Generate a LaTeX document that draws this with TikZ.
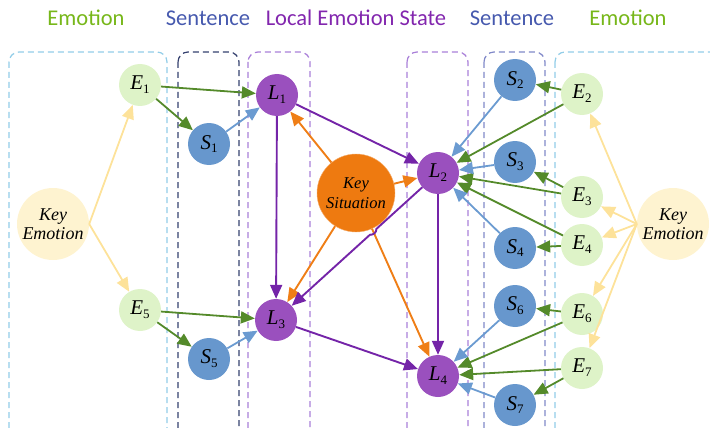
\documentclass[tikz,border=0pt]{standalone}
\usepackage{fontspec}
\setmainfont{Liberation Serif}
\newfontfamily\hdfont{Carlito}
\usetikzlibrary{arrows.meta,calc}

\definecolor{emofill}{HTML}{DEF3C8}
\definecolor{senfill}{HTML}{6797CD}
\definecolor{locfill}{HTML}{9A50BE}
\definecolor{keyfill}{HTML}{FEF3D0}
\definecolor{sitfill}{HTML}{EE7A10}
\definecolor{gcol}{HTML}{548A2A}
\definecolor{ycol}{HTML}{FDE29A}
\definecolor{bcol}{HTML}{6B9BD1}
\definecolor{pcol}{HTML}{7424A8}
\definecolor{ocol}{HTML}{EF7E16}
\definecolor{emobox}{HTML}{92CDE8}
\definecolor{senboxl}{HTML}{34406E}
\definecolor{senboxr}{HTML}{8088C8}
\definecolor{locbox}{HTML}{A97FD8}
\definecolor{hgreen}{HTML}{77B71A}
\definecolor{hblue}{HTML}{4659AE}
\definecolor{hpurple}{HTML}{8226AE}

\newcommand{\nlab}[2]{\textit{#1}\raisebox{-0.4ex}{\fontsize{13}{13}\selectfont #2}}

\tikzset{
  emo/.style={shape=circle,fill=emofill,minimum size=42pt,inner sep=0pt,font=\fontsize{21}{21}\selectfont},
  sen/.style={shape=circle,fill=senfill,minimum size=42pt,inner sep=0pt,font=\fontsize{21}{21}\selectfont},
  loc/.style={shape=circle,fill=locfill,minimum size=42pt,inner sep=0pt,font=\fontsize{21}{21}\selectfont},
  keyemo/.style={shape=circle,fill=keyfill,minimum size=72pt,inner sep=0pt,align=center,font=\fontsize{18}{19}\selectfont\itshape},
  keysit/.style={shape=circle,fill=sitfill,draw=sitfill!60!white,minimum size=78pt,inner sep=0pt,align=center,font=\fontsize{16.5}{20}\selectfont\itshape},
  head/.style={anchor=base,font=\hdfont\fontsize{22.5}{22.5}\selectfont},
  tip/.style={-{Triangle[length=14pt,width=12pt]}},
  garrow/.style={tip,color=gcol,line width=1.8pt},
  yarrow/.style={tip,color=ycol,line width=1.8pt},
  barrow/.style={tip,color=bcol,line width=1.8pt},
  parrow/.style={tip,color=pcol,line width=1.9pt},
  oarrow/.style={tip,color=ocol,line width=1.9pt},
  grp/.style={rounded corners=10pt,line width=1.2pt,dash pattern=on 6pt off 4pt}
}

\begin{document}
\begin{tikzpicture}[x=1pt,y=-1pt]
  \useasboundingbox (0,0) rectangle (710,428);

  % column titles
  \node[head,text=hgreen] (tEmoL) at (86,26) {Emotion};
  \node[head,text=hblue] (tSenL) at (208,26) {Sentence};
  \node[head,text=hpurple] (tLoc) at (356,26) {Local Emotion State};
  \node[head,text=hblue] (tSenR) at (512,26) {Sentence};
  \node[head,text=hgreen] (tEmoR) at (628,26) {Emotion};

  % groups
  \draw[grp,emobox] (9,52) rectangle (167,438);
  \draw[grp,senboxl] (178,52) rectangle (239,438);
  \draw[grp,locbox] (248,52) rectangle (310,438);
  \draw[grp,locbox] (407,52) rectangle (468,438);
  \draw[grp,senboxr] (484,52) rectangle (545,438);
  \draw[grp,emobox] (555,52) rectangle (725,438);

  % vertices
  \node[keyemo] (keyL) at (53,224) {Key\\Emotion};
  \node[keyemo] (keyR) at (673,224) {Key\\Emotion};
  \node[keysit] (sit) at (356,193) {Key\\Situation};

  \node[emo] (E1) at (140,85) {\nlab{E}{1}};
  \node[emo] (E5) at (140,310) {\nlab{E}{5}};
  \node[emo] (E2) at (582,94) {\nlab{E}{2}};
  \node[emo] (E3) at (582,197) {\nlab{E}{3}};
  \node[emo] (E4) at (582,245) {\nlab{E}{4}};
  \node[emo] (E6) at (582,314) {\nlab{E}{6}};
  \node[emo] (E7) at (582,368) {\nlab{E}{7}};

  \node[sen] (S1) at (209,144) {\nlab{S}{1}};
  \node[sen] (S5) at (209,359) {\nlab{S}{5}};
  \node[sen] (S2) at (515,80) {\nlab{S}{2}};
  \node[sen] (S3) at (515,162) {\nlab{S}{3}};
  \node[sen] (S4) at (515,248) {\nlab{S}{4}};
  \node[sen] (S6) at (515,306) {\nlab{S}{6}};
  \node[sen] (S7) at (515,405) {\nlab{S}{7}};

  \node[loc] (L1) at (277,95) {\nlab{L}{1}};
  \node[loc] (L2) at (438,173) {\nlab{L}{2}};
  \node[loc] (L3) at (276,320) {\nlab{L}{3}};
  \node[loc] (L4) at (438,376) {\nlab{L}{4}};

  % edges
  \path[yarrow] (keyL.east) edge (E1);
  \path[yarrow] (keyL.east) edge (E5);
  \path[yarrow] (keyR.west) edge (E2);
  \path[yarrow] (keyR.west) edge (E3);
  \path[yarrow] (keyR.west) edge (E4);
  \path[yarrow] (keyR.west) edge (E6);
  \path[yarrow] (keyR.west) edge (E7);

  \path[garrow] (E1) edge (S1);
  \path[garrow] (E1) edge (L1);
  \path[garrow] (E5) edge (S5);
  \path[garrow] (E5) edge (L3);
  \path[garrow] (E2) edge (S2);
  \path[garrow] (E2) edge (L2);
  \path[garrow] (E3) edge (S3);
  \path[garrow] (E3) edge (L2);
  \path[garrow] (E4) edge (S4);
  \path[garrow] (E4) edge (L2);
  \path[garrow] (E6) edge (S6);
  \path[garrow] (E6) edge (L4);
  \path[garrow] (E7) edge (L4);
  \path[garrow] (E7) edge (S7);

  \path[barrow] (S1) edge (L1);
  \path[barrow] (S5) edge (L3);
  \path[barrow] (S2) edge (L2);
  \path[barrow] (S3) edge (L2);
  \path[barrow] (S4) edge (L2);
  \path[barrow] (S6) edge (L4);
  \path[barrow] (S7) edge (L4);

  \path[oarrow] (sit) edge (L1);
  \path[oarrow] (sit) edge (L2);
  \path[oarrow] (sit) edge (L3);
  \path[oarrow] (sit) edge (L4);

  \path[parrow] (L1) edge (L2);
  \path[parrow] (L1) edge (L3);
  \path[parrow] (L2) edge (L4);
  \path[parrow] (L3) edge (L4);
  % L2 -> L3 hops over the orange line
  \draw[parrow] (L2) -- ($(L2)!0.38!(L3)$) to[bend left=50] ($(L2)!0.42!(L3)$) -- (L3);
\end{tikzpicture}
\end{document}
